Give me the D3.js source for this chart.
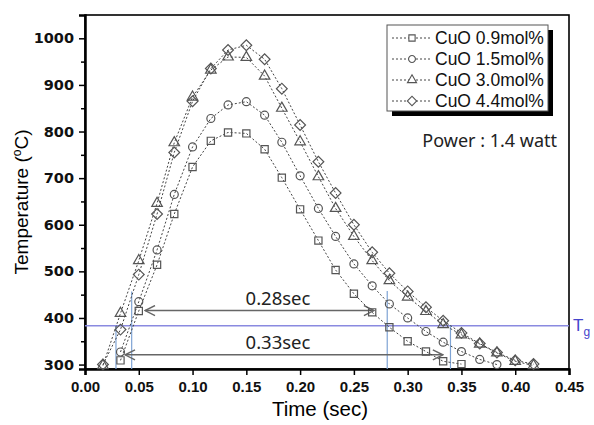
<!DOCTYPE html>
<html>
<head>
<meta charset="utf-8">
<script src="https://cdn.jsdelivr.net/npm/d3@7"></script>
<style>
  body { margin: 0; background: #fff; }
  svg { display: block; }
</style>
</head>
<body>
<div id="chart"></div>
<script>
// time steps (sec) for each series
const tSquare = [0.033, 0.05, 0.067, 0.083, 0.1, 0.117, 0.133, 0.15, 0.167, 0.183, 0.2, 0.217, 0.233, 0.25, 0.267, 0.283, 0.3, 0.317, 0.333, 0.35];
const cuo09 = [309, 415, 514, 623, 724, 780, 798, 796, 762, 701, 633, 566, 503, 452, 412, 380, 350, 328, 307, 301];

const tCircle = [0.033, 0.05, 0.067, 0.083, 0.1, 0.117, 0.133, 0.15, 0.167, 0.183, 0.2, 0.217, 0.233, 0.25, 0.267, 0.283, 0.3, 0.317, 0.333, 0.35, 0.367, 0.383];
const cuo15 = [327, 435, 546, 665, 767, 828, 857, 864, 835, 777, 705, 635, 575, 516, 469, 430, 400, 371, 348, 328, 311, 300];

const tTri = [0.0167, 0.033, 0.05, 0.067, 0.083, 0.1, 0.117, 0.133, 0.15, 0.167, 0.183, 0.2, 0.217, 0.233, 0.25, 0.267, 0.283, 0.3, 0.317, 0.333, 0.35, 0.367, 0.383, 0.4, 0.417];
const cuo30 = [298, 410, 523, 646, 776, 874, 932, 960, 959, 919, 850, 778, 703, 635, 575, 523, 480, 445, 414, 386, 364, 344, 325, 307, 298];

const tDia = [0.0167, 0.033, 0.05, 0.067, 0.083, 0.1, 0.117, 0.133, 0.15, 0.167, 0.183, 0.2, 0.217, 0.233, 0.25, 0.267, 0.283, 0.3, 0.317, 0.333, 0.35, 0.367, 0.383, 0.4, 0.417];
const cuo44 = [300, 375, 493, 623, 755, 865, 935, 975, 985, 955, 892, 814, 735, 668, 600, 541, 496, 457, 423, 394, 368, 345, 326, 309, 301];

const seriesNames = ['CuO 0.9mol%', 'CuO 1.5mol%', 'CuO 3.0mol%', 'CuO 4.4mol%'];
const xTicks = [0, 0.05, 0.1, 0.15, 0.2, 0.25, 0.3, 0.35, 0.4, 0.45];
const yTicks = [300, 400, 500, 600, 700, 800, 900, 1000];
const tg = 383.5;
// vertical guide lines: [time, top temperature]
const guides = [[0.0288, 383.5], [0.0434, 457], [0.281, 458], [0.3398, 383.5]];
// arrows: [t start, t end, temperature, label]
const arrows = [[0.0558, 0.2686, 416, '0.28sec'], [0.0372, 0.3327, 321, '0.33sec']];

const width = 594, height = 425;
const margin = {top: 15, right: 25, bottom: 56, left: 85};
const arial = '"Liberation Sans", Arial, sans-serif';
const gothic = '"Noto Sans", "Open Sans", sans-serif';

const svg = d3.select('#chart').append('svg')
  .attr('width', width)
  .attr('height', height);

const x = d3.scaleLinear().domain([0, 0.45]).range([margin.left, width - margin.right]);
const y = d3.scaleLinear().domain([290.5, 1050]).range([height - margin.bottom, margin.top]);

// frame
svg.append('rect')
  .attr('x', x(0)).attr('y', y(1050))
  .attr('width', x(0.45) - x(0)).attr('height', y(290.5) - y(1050))
  .attr('fill', 'none').attr('stroke', '#000').attr('stroke-width', 1.6);

// axes
const xAxis = svg.append('g')
  .attr('transform', `translate(0,${y(290.5)})`)
  .call(d3.axisBottom(x).tickValues(xTicks).tickFormat(d3.format('.2f')).tickSize(6).tickPadding(6));
xAxis.attr('font-family', arial).attr('font-size', 15).attr('font-weight', 'bold');

const yAxis = svg.append('g')
  .attr('transform', `translate(${x(0)},0)`)
  .call(d3.axisLeft(y).tickValues(yTicks).tickFormat(d3.format('d')).tickSize(6).tickPadding(5));
yAxis.attr('font-family', '"DejaVu Sans", sans-serif').attr('font-size', 14.5).attr('font-weight', 'bold');

[xAxis, yAxis].forEach(a => {
  a.selectAll('text').attr('fill', '#111');
  a.select('.domain').attr('stroke-width', 2.5);
  a.selectAll('.tick line').attr('stroke-width', 1.5);
});

svg.append('g')
  .attr('transform', `translate(${x(0)},0)`)
  .call(d3.axisLeft(y).tickValues(d3.range(350, 1000, 100)).tickSize(4).tickFormat(''))
  .call(g => g.select('.domain').remove())
  .selectAll('line').attr('stroke-width', 1.5);

// axis titles
svg.append('text')
  .attr('x', 320).attr('y', 416)
  .attr('text-anchor', 'middle')
  .attr('font-family', arial).attr('font-size', 20.5)
  .text('Time (sec)');

const yTitle = svg.append('text')
  .attr('transform', 'translate(28,202) rotate(-90)')
  .attr('text-anchor', 'middle')
  .attr('font-family', arial).attr('font-size', 19);
yTitle.append('tspan').text('Temperature (');
yTitle.append('tspan').attr('font-size', 12).attr('dy', -7).text('o');
yTitle.append('tspan').attr('dy', 7).text('C)');

// Tg line and guides
svg.append('line')
  .attr('x1', x(0)).attr('x2', x(0.45))
  .attr('y1', y(tg)).attr('y2', y(tg))
  .attr('stroke', '#8a8ae0').attr('stroke-width', 1.5);

svg.append('text')
  .attr('x', x(0.45) + 4).attr('y', y(tg) + 5)
  .attr('fill', '#4545cc')
  .attr('font-family', arial).attr('font-size', 17)
  .text('T')
  .append('tspan').attr('font-size', 12).attr('dy', 5).text('g');

svg.selectAll('.guide')
  .data(guides)
  .join('line')
  .attr('x1', d => x(d[0])).attr('x2', d => x(d[0]))
  .attr('y1', d => y(d[1])).attr('y2', y(290.5))
  .attr('stroke', '#7ea3d4').attr('stroke-width', 1.2);

// arrows
const defs = svg.append('defs');
defs.append('marker')
  .attr('id', 'arrowhead')
  .attr('viewBox', '0 0 12 12')
  .attr('refX', 11).attr('refY', 6)
  .attr('markerWidth', 12).attr('markerHeight', 12)
  .attr('markerUnits', 'userSpaceOnUse')
  .attr('orient', 'auto-start-reverse')
  .append('path')
  .attr('d', 'M1,1 L11,6 L1,11')
  .attr('fill', 'none').attr('stroke', '#666').attr('stroke-width', 1.4);

svg.selectAll('.arrow')
  .data(arrows)
  .join('line')
  .attr('x1', d => x(d[0])).attr('x2', d => x(d[1]))
  .attr('y1', d => y(d[2])).attr('y2', d => y(d[2]))
  .attr('stroke', '#666').attr('stroke-width', 1.5)
  .attr('marker-start', 'url(#arrowhead)')
  .attr('marker-end', 'url(#arrowhead)');

svg.selectAll('.arrow-label')
  .data(arrows)
  .join('text')
  .attr('x', 278).attr('y', d => y(d[2]) - 6)
  .attr('text-anchor', 'middle')
  .attr('fill', '#222')
  .attr('font-family', gothic).attr('font-size', 18.5)
  .text(d => d[3]);

// series
const symbols = [
  {type: d3.symbolSquare, size: 52, rot: 0},
  {type: d3.symbolCircle, size: 50, rot: 0},
  {type: d3.symbolTriangle, size: 48, rot: 0},
  {type: d3.symbolSquare, size: 58, rot: 45}
];
const series = [
  {t: tSquare, v: cuo09},
  {t: tCircle, v: cuo15},
  {t: tTri, v: cuo30},
  {t: tDia, v: cuo44}
];

const line = d3.line().x(d => x(d[0])).y(d => y(d[1]));

series.forEach((s, i) => {
  const pts = s.t.map((t, j) => [t, s.v[j]]);
  svg.append('path')
    .datum(pts)
    .attr('d', line)
    .attr('fill', 'none')
    .attr('stroke', '#444')
    .attr('stroke-width', 1)
    .attr('stroke-dasharray', '2,2');
  svg.append('g').selectAll('path')
    .data(pts)
    .join('path')
    .attr('transform', d => `translate(${x(d[0])},${y(d[1])}) rotate(${symbols[i].rot})`)
    .attr('d', d3.symbol(symbols[i].type, symbols[i].size))
    .attr('fill', 'none')
    .attr('stroke', '#555')
    .attr('stroke-width', 1.2);
});

// legend
const lg = svg.append('g').attr('transform', 'translate(387,25)');
lg.append('rect').attr('x', 5).attr('y', 5).attr('width', 161).attr('height', 86).attr('fill', '#000');
lg.append('rect').attr('x', 0).attr('y', 0).attr('width', 161).attr('height', 86)
  .attr('fill', '#fff').attr('stroke', '#555').attr('stroke-width', 1);

const rows = lg.selectAll('.row')
  .data(seriesNames)
  .join('g')
  .attr('transform', (d, i) => `translate(0,${13 + i * 21})`);
rows.append('line')
  .attr('x1', 5).attr('x2', 44)
  .attr('stroke', '#444').attr('stroke-dasharray', '2,2');
rows.append('path')
  .attr('transform', (d, i) => `translate(25,0) rotate(${symbols[i].rot})`)
  .attr('d', (d, i) => d3.symbol(symbols[i].type, symbols[i].size * 0.75)())
  .attr('fill', '#fff').attr('stroke', '#555').attr('stroke-width', 1.1);
rows.append('text')
  .attr('x', 48).attr('y', 6)
  .attr('font-family', arial).attr('font-size', 17.5)
  .attr('fill', '#111')
  .text(d => d);

svg.append('text')
  .attr('x', 557).attr('y', 147)
  .attr('text-anchor', 'end')
  .attr('fill', '#222')
  .attr('font-family', gothic).attr('font-size', 18)
  .text('Power : 1.4 watt');
</script>
</body>
</html>
